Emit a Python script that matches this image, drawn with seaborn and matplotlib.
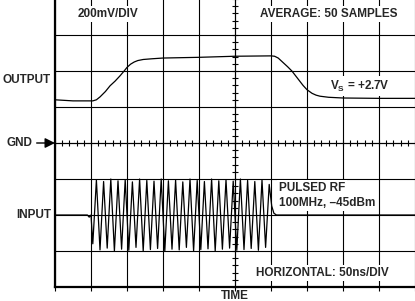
import numpy as np
import pandas as pd
import matplotlib
matplotlib.use("Agg")
import matplotlib.pyplot as plt
import seaborn as sns

# ---------------- data (all in screen divisions) ----------------
# Output trace: time (div) and level (div above GND)
out_t = [0.0, 0.5, 1.05, 1.15, 1.25, 1.40, 1.53, 1.67, 1.81, 1.92, 2.0, 2.10,
         2.20, 2.30, 2.45, 2.70, 3.0, 4.0, 5.0, 6.0, 6.10, 6.20, 6.33, 6.46,
         6.58, 6.72, 6.89, 7.0, 7.14, 7.25, 7.36, 7.60, 8.0, 9.0, 10.0]
out_v = [1.20, 1.17, 1.17, 1.20, 1.28, 1.43, 1.59, 1.72, 1.87, 2.00, 2.10, 2.19,
         2.25, 2.29, 2.32, 2.34, 2.36, 2.38, 2.41, 2.42, 2.41, 2.36, 2.24, 2.12,
         2.00, 1.82, 1.60, 1.48, 1.38, 1.33, 1.30, 1.27, 1.25, 1.24, 1.24]

in_base = -2.0
burst_start = 1.0          # div
half_period = 0.1          # div (100 MHz at 50 ns/div)
rf_troughs = [-0.80, -0.97, -0.92, -1.00, -0.95, -0.98, -0.90, -1.00, -0.96, -0.93,
              -1.00, -0.95, -0.97, -0.90, -1.00, -0.96, -0.94, -1.00, -0.95, -0.92,
              -0.98, -0.96, -0.93, -0.98, -0.90]
rf_peaks = [0.97, 0.93, 1.00, 0.95, 0.98, 0.92, 1.00, 0.96, 0.94, 1.00,
            0.95, 0.97, 0.92, 1.00, 0.96, 0.93, 1.00, 0.95, 0.98, 0.94,
            1.00, 0.96, 0.93, 0.97, 0.85]
pre_t = [0.0, 0.9, 0.95, 1.0]
pre_v = [0.0, 0.0, -0.06, 0.0]
tail_t = [6.02, 6.08, 6.15, 10.0]
tail_v = [0.25, 0.05, 0.0, 0.0]

x_divs = list(range(0, 11))
y_divs = list(range(-4, 5))

# ---------------- build tables ----------------
extremes = []
for tr, pk in zip(rf_troughs, rf_peaks):
    extremes += [tr, pk]
burst_t = [burst_start + half_period / 2 + half_period * k for k in range(len(extremes))]
in_t = pre_t + burst_t + tail_t
in_v = [in_base + v for v in (pre_v + extremes + tail_v)]

df_out = pd.DataFrame({"t": out_t, "v": out_v})
df_in = pd.DataFrame({"t": in_t, "v": in_v})

# ---------------- style ----------------
sns.set_style("white")
plt.rcParams["font.family"] = ["Liberation Sans", "DejaVu Sans"]
plt.rcParams["font.weight"] = "bold"
plt.rcParams["mathtext.fontset"] = "custom"
plt.rcParams["mathtext.rm"] = "Liberation Sans:bold"
plt.rcParams["mathtext.default"] = "rm"

W, H = 415, 301
fig = plt.figure(figsize=(W / 100, H / 100), dpi=100)
ax = fig.add_axes([55 / W, 14 / H, 360 / W, 288 / H])
ax.set_xlim(0, 10)
ax.set_ylim(-4, 4)

# graticule
ax.set_xticks(x_divs)
ax.set_yticks(y_divs)
ax.grid(True, color="black", linewidth=0.8)
ax.set_axisbelow(True)
ax.tick_params(axis="x", which="major", direction="out", length=3, width=0.8,
               colors="black", labelbottom=False, bottom=True)
ax.tick_params(axis="y", which="major", length=0, labelleft=False)
for s in ["top", "right"]:
    ax.spines[s].set_visible(False)
for s in ["left", "bottom"]:
    ax.spines[s].set_linewidth(1.6)
    ax.spines[s].set_color("black")

# centre axes with minor ticks
ax2 = fig.add_axes(ax.get_position(), frameon=True, facecolor="none")
ax2.set_xlim(0, 10)
ax2.set_ylim(-4, 4)
for s in ["top", "right"]:
    ax2.spines[s].set_visible(False)
ax2.spines["bottom"].set_position(("data", 0))
ax2.spines["left"].set_position(("data", 5))
for s in ["left", "bottom"]:
    ax2.spines[s].set_linewidth(0.8)
    ax2.spines[s].set_color("black")
ax2.set_xticks(np.arange(0, 10.001, 0.2))
ax2.set_yticks(np.arange(-4, 4.001, 0.2))
ax2.tick_params(direction="inout", length=5, width=0.8, colors="black",
                labelbottom=False, labelleft=False, bottom=True, left=True)

# traces
sns.lineplot(data=df_out, x="t", y="v", ax=ax, color="black", linewidth=0.9,
             estimator=None, sort=False)
sns.lineplot(data=df_in, x="t", y="v", ax=ax, color="black", linewidth=0.9,
             estimator=None, sort=False)
ax.set_xlabel("")
ax.set_ylabel("")

fs = 8.5
box = dict(facecolor="white", edgecolor="none", pad=1.5)
ax.text(1.46, 3.58, "200mV/DIV", fontsize=fs, fontweight="bold", ha="center", va="center", bbox=box, zorder=5)
ax.text(7.61, 3.58, "AVERAGE: 50 SAMPLES", fontsize=fs, fontweight="bold", ha="center", va="center", bbox=box, zorder=5)
ax.text(8.47, 1.58, r"V$_{S}$ = +2.7V", fontsize=fs, fontweight="bold", ha="center", va="center", bbox=box, zorder=5)
ax.text(6.22, -1.25, "PULSED RF", fontsize=fs, fontweight="bold", ha="left", va="center", bbox=box, zorder=5)
ax.text(6.22, -1.67, "100MHz, \u201345dBm", fontsize=fs, fontweight="bold", ha="left", va="center", bbox=box, zorder=5)
ax.text(7.44, -3.61, "HORIZONTAL: 50ns/DIV", fontsize=fs, fontweight="bold", ha="center", va="center", bbox=box, zorder=5)
ax.text(5.0, -4.24, "TIME", fontsize=fs, fontweight="bold", ha="center", va="center", clip_on=False)

trans = matplotlib.transforms.blended_transform_factory(fig.transFigure, ax.transData)
fig.text(51 / W, 1.75, "OUTPUT", fontsize=fs, fontweight="bold", ha="right", va="center", transform=trans)
fig.text(51 / W, -2.0, "INPUT", fontsize=fs, fontweight="bold", ha="right", va="center", transform=trans)
ax.annotate("GND", xy=(0, 0), xycoords="data", xytext=(-23, 0), textcoords="offset pixels",
            ha="right", va="center", fontsize=fs, fontweight="bold", annotation_clip=False,
            arrowprops=dict(arrowstyle="-|>,head_length=0.7,head_width=0.35",
                            color="black", lw=1.0, shrinkA=1, shrinkB=0))

fig.savefig("out.png", dpi=100)
